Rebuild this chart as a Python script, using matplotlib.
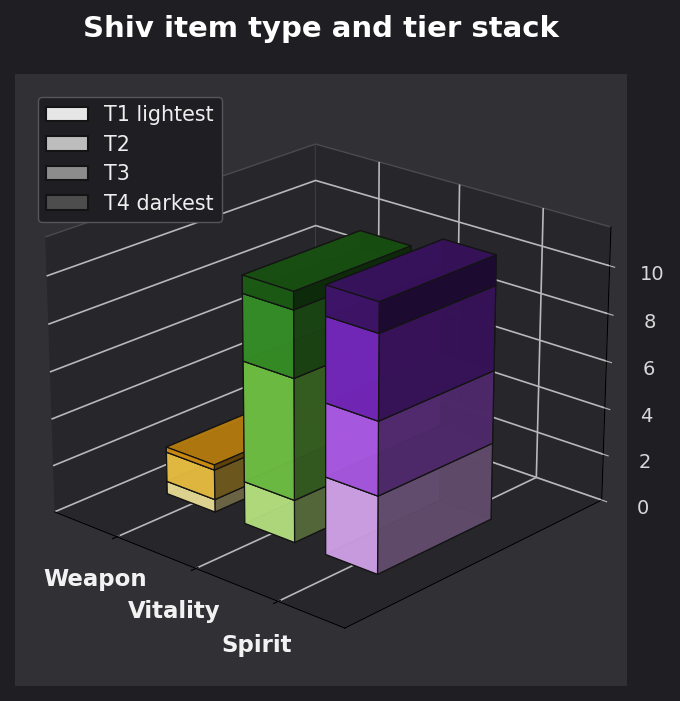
import matplotlib
matplotlib.use("Agg")
import matplotlib.pyplot as plt
from matplotlib.patches import Patch
import numpy as np

categories = ["Weapon", "Vitality", "Spirit"]
tiers = ["T1 lightest", "T2", "T3", "T4 darkest"]
t1 = [0.54, 1.8, 3.27]
t2 = [1.28, 5.1, 3.07]
t3 = [0.22, 2.8, 3.53]
t4 = [0.0, 0.75, 1.25]
tier_values = [t1, t2, t3, t4]
palette = [
    ["#fff1a5", "#c7f68c", "#e3b2fe"],
    ["#ffd048", "#7ad34b", "#bc63fb"],
    ["#e69c14", "#3c9d2b", "#812cce"],
    ["#8a5a08", "#1f6617", "#461776"],
]
legend_colors = ["#e6e6e6", "#bdbdbd", "#8c8c8c", "#4d4d4d"]

fig = plt.figure(figsize=(6.8, 7.01), dpi=100, facecolor="#1f1f23")
ax = fig.add_axes([15/680, 15/701, 612/680, 613/701], projection="3d", facecolor="#303035")
bottom = np.zeros(3)
w = 0.62
for vals, cols in zip(tier_values, palette):
    for i, v in enumerate(vals):
        if v > 0:
            ax.bar3d(i - 0.335, -0.015, bottom[i], w, 1, v, color=cols[i], edgecolor="#141414",
                     linewidth=0.9, alpha=0.97, shade=True)
    bottom += np.array(vals)

ax.set_xlim(-0.82, 2.78)
ax.set_ylim(-0.64, 1.63)
ax.set_zlim(0, 11.6)
ax.view_init(elev=22, azim=-48)
ax.set_xticks(range(3))
ax.set_xticklabels(categories, fontweight="bold", color="#f2f2f2", fontsize=16.5)
ax.set_yticks([])
ax.set_zticks([0, 2, 4, 6, 8, 10])
ax.tick_params(axis="z", labelcolor="#d8d8d8", labelsize=14, pad=9.5, color="#b8b8b8", width=1.2)
ax.tick_params(axis="x", pad=10)
for a in (ax.xaxis, ax.yaxis, ax.zaxis):
    a.set_pane_color("#26262b")
    a.pane.set_edgecolor("#4a4a50")
    a._axinfo["grid"]["color"] = "#b8b8b8"
    a._axinfo["grid"]["linewidth"] = 1.2
    a.line.set_color("black")
    a.line.set_linewidth(0.9)

handles = [Patch(facecolor=c, edgecolor="#141414", linewidth=1.5, label=t)
           for c, t in zip(legend_colors, tiers)]
leg = ax.legend(handles=handles, loc="upper left", bbox_to_anchor=(38/680, 1-97/701),
                bbox_transform=fig.transFigure, borderaxespad=0, labelspacing=0.46, fontsize=14.9,
                facecolor="#1f1f23", edgecolor="#55555a", labelcolor="#eeeeee", framealpha=1)
fig.text(0.472, 0.959, "Shiv item type and tier stack", color="white", fontsize=21,
         fontweight="bold", ha="center", va="center")
fig.savefig("out.png", dpi=100, facecolor=fig.get_facecolor())
